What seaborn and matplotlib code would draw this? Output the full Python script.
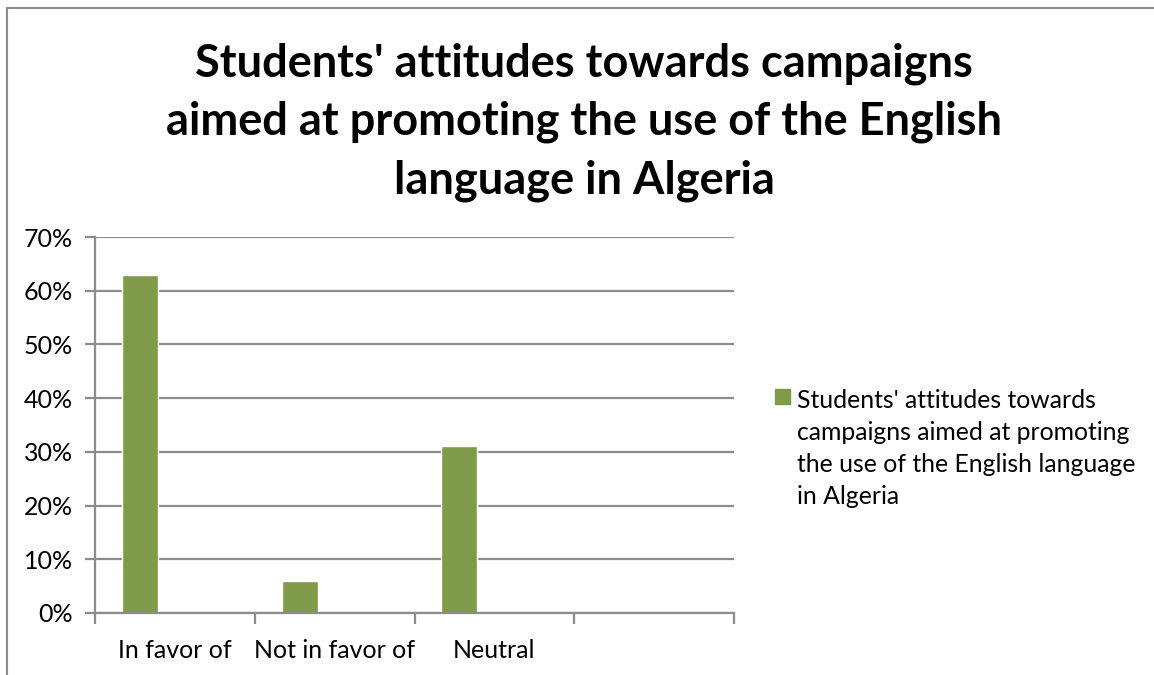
import matplotlib
matplotlib.use("Agg")
import matplotlib.pyplot as plt
from matplotlib.patches import Rectangle
from matplotlib.ticker import FixedLocator, FuncFormatter
import numpy as np
import pandas as pd
import seaborn as sns

# Chart data
categories = ["In favor of", "Not in favor of", "Neutral", ""]
values = [0.63, 0.06, 0.31]
series_name = ("Students' attitudes towards campaigns aimed at promoting "
               "the use of the English language in Algeria")
title_lines = ["Students' attitudes towards campaigns",
               "aimed at promoting the use of the English",
               "language in Algeria"]
legend_lines = ["Students' attitudes towards",
                "campaigns aimed at promoting",
                "the use of the English language",
                "in Algeria"]
y_ticks = [0.0, 0.1, 0.2, 0.3, 0.4, 0.5, 0.6, 0.7]

bar_color = "#7F9A48"
grid_color = "#8C8C8C"

sns.set_theme(style="white")
plt.rcParams["font.family"] = ["Lato", "DejaVu Sans"]

W, H = 1154, 675
fig = plt.figure(figsize=(W / 100, H / 100), dpi=100)
ax = fig.add_axes([95 / W, 1 - 613 / H, (734 - 95) / W, (613 - 237) / H])

df = pd.DataFrame({
    "category": categories[:len(values)],
    "value": values,
    "series": [series_name] * len(values),
})

# Two series slots per category (second one empty), as in a clustered column chart
sns.barplot(data=df, x="category", y="value", hue="series",
            hue_order=[series_name, "_spare"], order=categories,
            palette=[bar_color, bar_color], width=0.875, gap=0.486,
            dodge=True, saturation=1, legend=False, ax=ax)

ax.set_xlim(-0.5, len(categories) - 0.5)
ax.set_ylim(0, 0.7)
ax.set_xlabel("")
ax.set_ylabel("")

# Gridlines and axes
ax.set_yticks(y_ticks)
ax.yaxis.set_major_formatter(FuncFormatter(lambda v, _: f"{round(v * 100)}%"))
ax.grid(axis="y", color=grid_color, linewidth=1.6)
ax.set_axisbelow(True)
for side in ["top", "right"]:
    ax.spines[side].set_visible(False)
for side in ["left", "bottom"]:
    ax.spines[side].set_color(grid_color)
    ax.spines[side].set_linewidth(1.6)

ax.tick_params(axis="y", which="major", length=7, width=1.6, color=grid_color,
               labelsize=18, labelcolor="black", pad=9, left=True)
ax.tick_params(axis="x", which="major", length=0, labelsize=18,
               labelcolor="black", pad=19)
ax.xaxis.set_minor_locator(FixedLocator(np.arange(-0.5, len(categories), 1.0)))
ax.tick_params(axis="x", which="minor", length=8, width=1.6, color=grid_color,
               bottom=True)

# Title
fig.text(584 / W, 1 - 122 / H, "\n".join(title_lines), ha="center", va="center",
         fontsize=32.5, fontweight="bold", linespacing=1.47, color="black")

# Legend
fig.patches.append(Rectangle((775 / W, 1 - 404 / H), 15 / W, 15 / H,
                             transform=fig.transFigure, color=bar_color))
for i, line in enumerate(legend_lines):
    fig.text(797 / W, 1 - (398 + 32 * i) / H, line, ha="left",
             va="center_baseline", fontsize=17.8, color="black")

# Chart area border
fig.add_artist(Rectangle((7 / W, -0.01), 1.1, 1 - 8 / H + 0.01,
                         transform=fig.transFigure, fill=False,
                         edgecolor="#8C8C8C", linewidth=1.5))

fig.savefig("out.png", dpi=100, facecolor="white")
